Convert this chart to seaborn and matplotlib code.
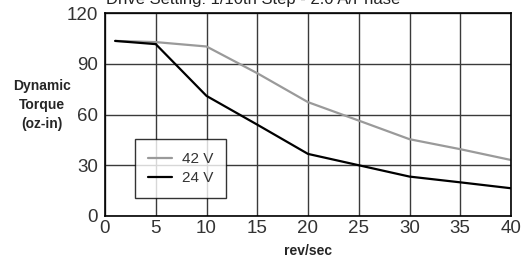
import numpy as np
import pandas as pd
import seaborn as sns
import matplotlib.pyplot as plt

# values
speed = [1, 5, 10, 15, 20, 25, 30, 35, 40]
torque_42v = [103.5, 102.8, 100.2, 84.4, 67.3, 56.4, 45.4, 39.5, 33.1]
torque_24v = [103.5, 101.6, 71.0, 54.0, 36.7, 30.0, 23.3, 19.9, 16.4]
series = ["42 V", "24 V"]
x_ticks = [0, 5, 10, 15, 20, 25, 30, 35, 40]
y_ticks = [0, 30, 60, 90, 120]

df = pd.DataFrame({
    "rev/sec": speed * 2,
    "torque": torque_42v + torque_24v,
    "supply": [series[0]] * len(speed) + [series[1]] * len(speed),
})

sns.set_style("white")
plt.rcParams['font.family'] = ['Liberation Sans', 'DejaVu Sans']

fig = plt.figure(figsize=(5.22, 2.58), dpi=100)
ax = fig.add_axes([105 / 522, 42 / 258, 406 / 522, 203 / 258])

sns.lineplot(data=df, x="rev/sec", y="torque", hue="supply", hue_order=series,
             palette={"42 V": "#9a9a9a", "24 V": "#000000"}, linewidth=1.6, ax=ax)

ax.set_xlim(0, 40)
ax.set_ylim(0, 120)
ax.set_xticks(x_ticks)
ax.set_yticks(y_ticks)
ax.grid(True, color="#3a3a3a", linewidth=1.0)
ax.set_axisbelow(True)
for s in ax.spines.values():
    s.set_color("black")
    s.set_linewidth(1.2)
ax.tick_params(length=0, labelsize=13.5, colors="#333333")
ax.tick_params(axis="y", pad=5)
ax.tick_params(axis="x", pad=3)

ax.set_xlabel("rev/sec", fontsize=10, fontweight="bold", labelpad=5)
ax.set_ylabel("")
fig.text(42 / 522, 1 - 105 / 258, "Dynamic\nTorque\n(oz-in)", ha="center", va="center",
         fontsize=10, fontweight="bold", linespacing=1.45)
fig.text(106 / 522, 1 - 4 / 258, "Drive Setting: 1/10th Step - 2.0 A/Phase",
         ha="left", va="baseline", fontsize=12, color="#222222")

leg = ax.legend(loc="lower left", bbox_to_anchor=(30 / 406, 18 / 203), borderaxespad=0,
                frameon=True, fancybox=False, fontsize=11, handlelength=1.6,
                handletextpad=0.6, borderpad=0.85, labelspacing=0.3, title=None)
leg.get_frame().set_edgecolor("black")
leg.get_frame().set_linewidth(1.0)
for t in leg.get_texts():
    t.set_color("#333333")

fig.savefig("out.png", dpi=100)
